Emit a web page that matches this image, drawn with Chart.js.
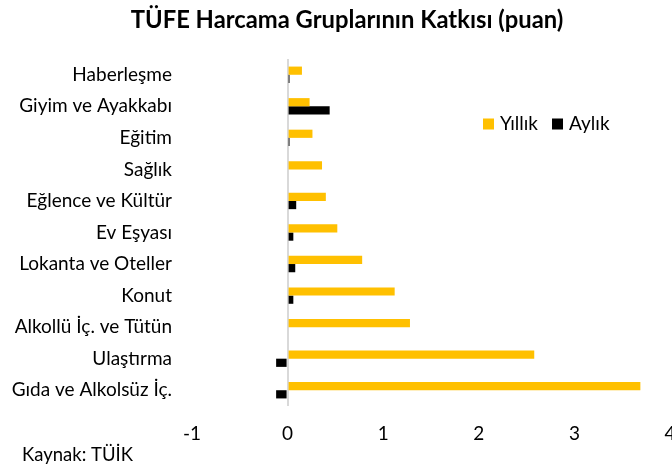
<!DOCTYPE html>
<html>
<head>
<meta charset="utf-8">
<script src="https://cdn.jsdelivr.net/npm/chart.js@4"></script>
<style>
html,body{margin:0;padding:0;background:#fff;}
#wrap{width:672px;height:468px;position:relative;}
</style>
</head>
<body>
<div id="wrap"><canvas id="c" width="672" height="468"></canvas></div>
<script>
const categories = ['Haberleşme','Giyim ve Ayakkabı','Eğitim','Sağlık','Eğlence ve Kültür','Ev Eşyası','Lokanta ve Oteller','Konut','Alkollü İç. ve Tütün','Ulaştırma','Gıda ve Alkolsüz İç.'];
const yillik = [0.15,0.23,0.26,0.36,0.40,0.52,0.78,1.12,1.28,2.58,3.69];
const aylik = [0.02,0.44,0.02,0.00,0.09,0.06,0.08,0.06,0.00,-0.12,-0.12];
const seriesNames = ['Yıllık','Aylık'];
const titleText = 'TÜFE Harcama Gruplarının Katkısı (puan)';
const sourceText = 'Kaynak: TÜİK';
const xMin = -1, xMax = 4;

const FONT = 'Lato, "Open Sans", sans-serif';

const extras = {
  id: 'extras',
  afterDraw(chart) {
    const ctx = chart.ctx;
    ctx.save();
    // title
    ctx.font = 'bold 23.8px ' + FONT;
    ctx.textBaseline = 'middle';
    ctx.textAlign = 'center';
    ctx.fillStyle = '#000';
    ctx.fillText(titleText, 347, 20);
    // legend
    ctx.font = '19px ' + FONT;
    let x = 483;
    const y = 124;
    chart.data.datasets.forEach((ds) => {
      ctx.fillStyle = ds.backgroundColor;
      ctx.fillRect(x, y - 5.5, 11, 11);
      ctx.fillStyle = '#000';
      ctx.textAlign = 'left';
      ctx.fillText(ds.label, x + 17, y);
      x += 17 + ctx.measureText(ds.label).width + 14;
    });
    // source
    ctx.font = '18.5px ' + FONT;
    ctx.textAlign = 'left';
    ctx.fillText(sourceText, 22, 455);
    ctx.restore();
  }
};

new Chart(document.getElementById('c'), {
  type: 'bar',
  data: {
    labels: categories,
    datasets: [
      {label: seriesNames[0], data: yillik, backgroundColor: '#FFC000', categoryPercentage: 0.52, barPercentage: 1.0},
      {label: seriesNames[1], data: aylik, backgroundColor: '#000000', categoryPercentage: 0.52, barPercentage: 1.0}
    ]
  },
  options: {
    indexAxis: 'y',
    responsive: false,
    animation: false,
    layout: {padding: {left: 0, right: 2, top: 59, bottom: 0}},
    plugins: {
      legend: {display: false},
      tooltip: {enabled: false},
      title: {display: false}
    },
    scales: {
      x: {
        min: xMin, max: xMax,
        ticks: {stepSize: 1, color: '#000', font: {family: FONT, size: 19}, padding: 16, maxRotation: 0},
        grid: {
          drawTicks: false,
          color: (c) => (c.tick && c.tick.value === 0) ? '#d9d9d9' : 'rgba(0,0,0,0)',
          lineWidth: 2
        },
        border: {display: false},
        afterFit: (s) => { s.paddingLeft = 0; s.paddingRight = 0; s.height = 62; }
      },
      y: {
        ticks: {color: '#000', font: {family: FONT, size: 19}, padding: 20},
        grid: {display: false, drawTicks: false},
        border: {display: false},
        afterFit: (s) => { s.width = 192; }
      }
    }
  },
  plugins: [extras]
});
</script>
</body>
</html>
